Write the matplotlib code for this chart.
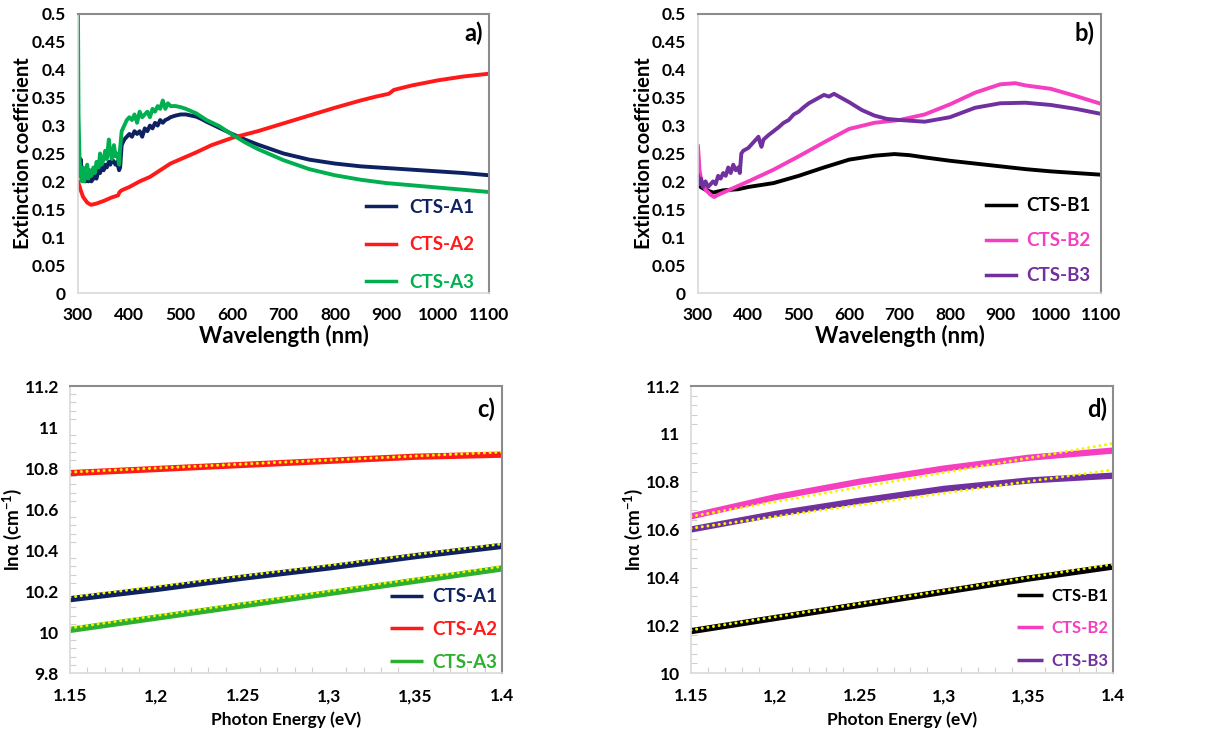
import numpy as np
import matplotlib.pyplot as plt
from matplotlib.ticker import MultipleLocator

plt.rcParams['font.family'] = ['Lato', 'DejaVu Sans']
plt.rcParams['font.weight'] = 'bold'
plt.rcParams['mathtext.fontset'] = 'custom'
plt.rcParams['mathtext.rm'] = 'Lato:bold'
plt.rcParams['mathtext.it'] = 'Lato:bold'
plt.rcParams['mathtext.bf'] = 'Lato:bold'

# ---- panel a: extinction coefficient, series A ----
wl_a_noisy = [300, 301, 303, 305, 308, 310, 312, 315, 318, 320, 323, 326, 330, 333, 336, 340,
              343, 346, 350, 353, 356, 360, 363, 366, 370, 373, 376, 380, 382, 385, 390,
              395, 400, 405, 410, 415, 420, 425, 430, 435, 440, 445, 450, 455, 460, 465,
              470, 475, 480, 490, 500, 510, 520, 530, 540, 550]
a1_noisy = [0.21, 0.22, 0.215, 0.24, 0.21, 0.205, 0.22, 0.2, 0.21, 0.2, 0.215, 0.2, 0.205, 0.21,
            0.205, 0.22, 0.215, 0.225, 0.22, 0.23, 0.225, 0.235, 0.23, 0.24, 0.235, 0.23,
            0.235, 0.22, 0.225, 0.265, 0.275, 0.28, 0.285, 0.28, 0.29, 0.285, 0.29, 0.28,
            0.295, 0.29, 0.3, 0.295, 0.305, 0.3, 0.31, 0.305, 0.31, 0.312, 0.315, 0.318,
            0.32, 0.32, 0.318, 0.316, 0.312, 0.307]
a3_noisy = [0.5, 0.32, 0.24, 0.21, 0.2, 0.225, 0.2, 0.215, 0.23, 0.205, 0.22, 0.21, 0.225, 0.215,
            0.235, 0.225, 0.25, 0.23, 0.24, 0.255, 0.24, 0.275, 0.25, 0.24, 0.265, 0.245,
            0.25, 0.23, 0.26, 0.29, 0.3, 0.31, 0.315, 0.31, 0.32, 0.305, 0.325, 0.315,
            0.32, 0.325, 0.315, 0.33, 0.325, 0.335, 0.33, 0.345, 0.33, 0.34, 0.335, 0.335,
            0.333, 0.33, 0.326, 0.322, 0.316, 0.31]
wl_a_smooth = [575, 600, 625, 650, 700, 750, 800, 850, 900, 950, 1000, 1050, 1100]
a1_smooth = [0.296, 0.285, 0.275, 0.266, 0.25, 0.239, 0.232, 0.227, 0.224, 0.221, 0.218, 0.215, 0.211]
a3_smooth = [0.299, 0.284, 0.27, 0.258, 0.238, 0.222, 0.211, 0.203, 0.197, 0.193, 0.189, 0.185, 0.181]

wl_a2 = [300, 305, 310, 318, 325, 335, 350, 365, 378, 381, 385, 400, 420, 440, 460, 480,
         500, 530, 560, 600, 650, 700, 750, 800, 850, 880, 905, 915, 950, 1000, 1050, 1100]
a2 = [0.2, 0.185, 0.172, 0.162, 0.158, 0.16, 0.165, 0.171, 0.175, 0.181, 0.184, 0.19, 0.2,
      0.208, 0.22, 0.232, 0.24, 0.252, 0.265, 0.278, 0.29, 0.304, 0.318, 0.332, 0.345,
      0.352, 0.357, 0.364, 0.372, 0.381, 0.388, 0.393]

# ---- panel b: extinction coefficient, series B ----
wl_b1 = [300, 305, 315, 330, 350, 380, 400, 450, 500, 550, 600, 650, 690, 720, 750, 800,
         850, 900, 950, 1000, 1050, 1100]
b1 = [0.2, 0.19, 0.185, 0.18, 0.184, 0.186, 0.19, 0.197, 0.21, 0.225, 0.239, 0.246, 0.249,
      0.247, 0.243, 0.237, 0.232, 0.227, 0.222, 0.218, 0.215, 0.212]
wl_b2 = [300, 303, 308, 315, 325, 332, 340, 350, 375, 400, 450, 500, 550, 600, 650, 700,
         750, 800, 850, 900, 930, 950, 1000, 1050, 1100]
b2 = [0.263, 0.22, 0.195, 0.185, 0.176, 0.172, 0.176, 0.18, 0.19, 0.2, 0.221, 0.245, 0.27,
      0.294, 0.305, 0.31, 0.32, 0.338, 0.359, 0.374, 0.376, 0.372, 0.366, 0.353, 0.339]
wl_b3 = [300, 303, 306, 310, 315, 320, 325, 330, 335, 340, 345, 350, 355, 360, 365, 370,
         375, 380, 383, 386, 390, 400, 410, 420, 423, 426, 430, 440, 450, 460, 470, 480,
         490, 500, 510, 520, 530, 540, 550, 560, 570, 580, 600, 625, 650, 675, 700, 750,
         800, 850, 900, 950, 1000, 1050, 1100]
b3 = [0.21, 0.195, 0.205, 0.19, 0.2, 0.19, 0.195, 0.2, 0.195, 0.21, 0.205, 0.215, 0.21,
      0.225, 0.215, 0.23, 0.22, 0.225, 0.215, 0.25, 0.255, 0.26, 0.27, 0.28, 0.27,
      0.262, 0.275, 0.283, 0.29, 0.297, 0.305, 0.31, 0.32, 0.325, 0.333, 0.34, 0.345,
      0.35, 0.355, 0.352, 0.357, 0.352, 0.342, 0.328, 0.318, 0.312, 0.31, 0.307, 0.315,
      0.332, 0.34, 0.341, 0.337, 0.33, 0.321]

# ---- panel c: ln(alpha) vs photon energy, series A ----
ev = [1.15, 1.2, 1.25, 1.3, 1.35, 1.4]
c_a1 = [10.16, 10.21, 10.265, 10.315, 10.37, 10.42]
c_a2 = [10.775, 10.795, 10.815, 10.835, 10.855, 10.865]
c_a3 = [10.01, 10.07, 10.13, 10.19, 10.25, 10.31]
fit_ev = [1.15, 1.4]
fit_a1 = [10.17, 10.43]
fit_a2 = [10.78, 10.878]
fit_a3 = [10.02, 10.32]

# ---- panel d: ln(alpha) vs photon energy, series B ----
d_b1 = [10.175, 10.23, 10.285, 10.34, 10.395, 10.445]
d_b2 = [10.655, 10.735, 10.8, 10.855, 10.9, 10.93]
d_b3 = [10.6, 10.665, 10.72, 10.77, 10.805, 10.825]
fit_b1 = [10.18, 10.455]
fit_b2 = [10.655, 10.96]
fit_b3 = [10.605, 10.85]

ev_ticks = [1.15, 1.2, 1.25, 1.3, 1.35, 1.4]
ev_labels = ['1.15', '1,2', '1.25', '1,3', '1,35', '1.4']

navy = '#0E2160'
red = '#FF1A1A'
green_a = '#00B050'
green_c = '#2DB02D'
black = '#000000'
pink = '#F53EC0'
purple = '#7030A0'
yellow = '#F5F500'

fig = plt.figure(figsize=(12.22, 7.35), dpi=100)
W, H = 1222, 735


def add_ax(x0, y0, x1, y1):
    return fig.add_axes([x0 / W, 1 - y1 / H, (x1 - x0) / W, (y1 - y0) / H])


def style(ax, xpad, ypad=9):
    for s in ['top', 'right']:
        ax.spines[s].set_color('#8C8C8C')
        ax.spines[s].set_linewidth(1.5)
    for s in ['left', 'bottom']:
        ax.spines[s].set_color('#D9D9D9')
        ax.spines[s].set_linewidth(1.2)
    ax.tick_params(which='major', length=0, labelsize=12.5)
    ax.tick_params(axis='y', which='major', pad=ypad)
    ax.tick_params(axis='x', which='major', pad=xpad)
    for lab in ax.get_xticklabels() + ax.get_yticklabels():
        lab.set_fontweight('bold')


def legend(ax, anchor, fs, hl, htp, ls):
    leg = ax.legend(loc='lower right', bbox_to_anchor=anchor, frameon=False,
                    labelcolor='linecolor', handlelength=hl, handletextpad=htp,
                    labelspacing=ls, borderpad=0, borderaxespad=0,
                    prop={'weight': 'bold', 'size': fs})
    for h in leg.get_lines():
        h.set_linewidth(2.5)
    return leg


def wave_panel(ax, tag):
    ax.set_xlim(300, 1100)
    ax.set_ylim(0, 0.5)
    ax.xaxis.set_major_locator(MultipleLocator(100))
    ax.set_yticks(np.arange(0, 0.51, 0.05), ['0'] + [f'{v:g}' for v in np.arange(0.05, 0.51, 0.05)])
    ax.set_xlabel('Wavelength (nm)', fontsize=16, fontweight='bold')
    ax.set_ylabel('Extinction coefficient', fontsize=14.5, fontweight='bold')
    ax.xaxis.set_label_coords(0.5, -0.115)
    ax.text(0.985, 0.93, tag, transform=ax.transAxes, ha='right', va='center', fontsize=17, fontweight='bold')
    style(ax, 10)


# a)
ax = add_ax(78, 14, 489, 293)
ax.plot(wl_a_noisy + wl_a_smooth, a1_noisy + a1_smooth, color=navy, lw=2.8, label='CTS-A1')
ax.plot(wl_a2, a2, color=red, lw=2.8, label='CTS-A2')
ax.plot(wl_a_noisy + wl_a_smooth, a3_noisy + a3_smooth, color=green_a, lw=2.8, label='CTS-A3')
wave_panel(ax, 'a)')
ax.yaxis.set_label_coords(-0.11, 0.5)
legend(ax, (0.964, 0.007), 13.5, 1.6, 0.7, 1.1)

# b)
ax = add_ax(698, 14, 1101, 293)
ax.plot(wl_b1, b1, color=black, lw=2.8, label='CTS-B1')
ax.plot(wl_b2, b2, color=pink, lw=2.8, label='CTS-B2')
ax.plot(wl_b3, b3, color=purple, lw=2.8, label='CTS-B3')
wave_panel(ax, 'b)')
ax.yaxis.set_label_coords(-0.11, 0.5)
legend(ax, (0.973, 0.032), 13.5, 1.6, 0.55, 0.95)


def energy_panel(ax, ylo, yhi, tag):
    ax.set_xlim(1.15, 1.4)
    ax.set_ylim(ylo, yhi)
    ax.set_xticks(ev_ticks, ev_labels)
    ax.set_yticks(np.arange(ylo, yhi + 0.01, 0.2), [f'{v:g}' for v in np.arange(ylo, yhi + 0.01, 0.2)])
    ax.xaxis.set_minor_locator(MultipleLocator(0.01))
    ax.yaxis.set_minor_locator(MultipleLocator(0.04))
    ax.tick_params(which='minor', direction='in', length=4, color='#D0D0D0', width=0.8)
    ax.set_xlabel('Photon Energy (eV)', fontsize=12.5, fontweight='bold')
    ax.set_ylabel(r'ln$\alpha$ (cm$^{-1}$)', fontsize=13.5, fontweight='bold')
    ax.xaxis.set_label_coords(0.5, -0.135)
    ax.text(0.985, 0.92, tag, transform=ax.transAxes, ha='right', va='center', fontsize=17, fontweight='bold')
    style(ax, 11, 8)


# c)
ax = add_ax(70, 386, 502, 673)
for y, f, col, lab in [(c_a1, fit_a1, navy, 'CTS-A1'), (c_a2, fit_a2, red, 'CTS-A2'),
                       (c_a3, fit_a3, green_c, 'CTS-A3')]:
    ax.plot(ev, y, color=col, lw=4.5, label=lab, solid_capstyle='butt')
    ax.plot(fit_ev, f, color=yellow, lw=2.2, ls=(0, (0.01, 1.85)), dash_capstyle='round')
energy_panel(ax, 9.8, 11.2, 'c)')
ax.yaxis.set_label_coords(-0.106, 0.5)
legend(ax, (0.988, 0.007), 13.5, 1.8, 0.45, 0.85)

# d)
ax = add_ax(691, 386, 1113, 673)
for y, f, col, lab in [(d_b1, fit_b1, black, 'CTS-B1'), (d_b2, fit_b2, pink, 'CTS-B2'),
                       (d_b3, fit_b3, purple, 'CTS-B3')]:
    ax.plot(ev, y, color=col, lw=4.5, label=lab, solid_capstyle='butt')
    ax.plot(fit_ev, f, color=yellow, lw=2.2, ls=(0, (0.01, 1.85)), dash_capstyle='round')
energy_panel(ax, 10.0, 11.2, 'd)')
ax.yaxis.set_label_coords(-0.108, 0.5)
legend(ax, (0.99, 0.014), 12, 1.6, 0.5, 1.0)

fig.savefig('out.png', dpi=100)
